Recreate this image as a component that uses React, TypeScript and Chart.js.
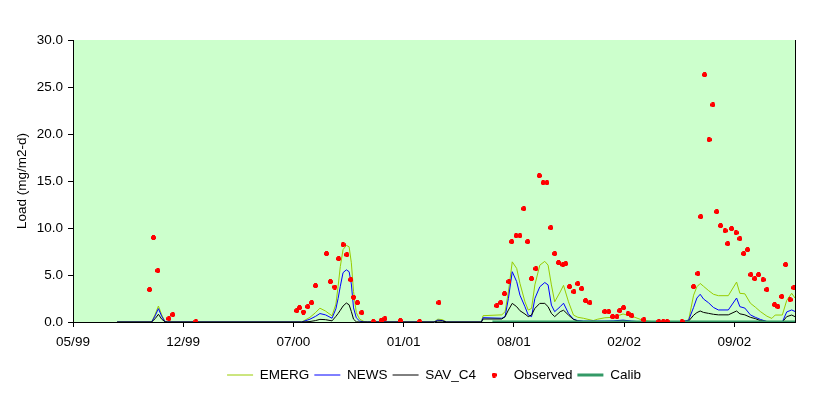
import React, { useEffect, useRef } from 'react';
import { Chart, registerables } from 'chart.js';
Chart.register(...registerables);

// x values are days counted from 31 May 1999
const simDays = [80, 140, 143, 149, 155, 161, 167, 172,
  415, 430, 440, 448, 458, 470, 477, 481, 485, 490, 496, 501, 505, 509, 514, 520, 528, 535,
  655, 662, 670, 678,
  741, 744, 778, 784, 790, 797, 805, 811, 820, 826, 832, 838, 847, 856, 862, 868, 874, 884, 890, 899, 908, 916, 926, 944, 952, 965, 980, 998, 1014, 1033, 1044, 1055,
  1103, 1117, 1126, 1132, 1138, 1144, 1153, 1162, 1171, 1189, 1204, 1210, 1219, 1229, 1238, 1247, 1259, 1268, 1274, 1287, 1295, 1304, 1310];

const emerg = [0, 0, 0.05, 0.8, 1.7, 0.75, 0.05, 0,
  0, 0.5, 1.0, 1.47, 1.17, 0.66, 1.9, 3.8, 5.9, 7.7, 8.15, 8.0, 6.3, 3.25, 1.0, 0.3, 0.05, 0,
  0, 0.3, 0.25, 0,
  0, 0.67, 0.76, 1.1, 3.2, 6.4, 5.7, 4.1, 2.15, 1.27, 1.45, 3.95, 6.05, 6.45, 6.05, 3.95, 2.15, 3.2, 3.9, 2.15, 0.74, 0.5, 0.4, 0.15, 0.3, 0.45, 0.5, 0.85, 0.62, 0.2, 0.1, 0,
  0, 0.2, 2.85, 3.75, 4.1, 3.8, 3.35, 2.95, 2.8, 2.8, 4.25, 3.05, 3.0, 2.0, 1.58, 1.12, 0.62, 0.38, 0.74, 0.74, 2.3, 3.05, 2.55];

const news = [0, 0, 0.03, 0.65, 1.42, 0.6, 0.03, 0,
  0, 0.3, 0.6, 0.9, 0.76, 0.4, 1.4, 2.5, 3.8, 5.25, 5.55, 5.35, 4.05, 1.5, 0.45, 0.1, 0, 0,
  0, 0.2, 0.15, 0,
  0, 0.46, 0.4, 0.57, 2.5, 5.35, 4.3, 2.85, 1.63, 0.74, 0.57, 2.5, 3.75, 4.2, 3.95, 1.8, 1.1, 1.63, 2.0, 0.92, 0.3, 0.15, 0.1, 0.1, 0.1, 0.1, 0.12, 0.2, 0.1, 0, 0, 0,
  0, 0.2, 1.55, 2.55, 2.95, 2.45, 2.05, 1.55, 1.28, 1.28, 2.55, 1.63, 1.48, 0.76, 0.5, 0.28, 0.05, 0, 0, 0, 1.07, 1.28, 1.12];

const savC4 = [0, 0, 0.02, 0.35, 0.82, 0.3, 0.02, 0,
  0, 0.05, 0.15, 0.28, 0.25, 0.12, 0.6, 0.9, 1.25, 1.7, 2.02, 1.83, 1.12, 0.3, 0.02, 0, 0, 0,
  0, 0.1, 0.1, 0,
  0, 0.32, 0.32, 0.57, 1.27, 1.98, 1.63, 1.2, 0.85, 0.57, 0.74, 1.45, 1.98, 1.98, 1.63, 0.92, 0.57, 1.1, 1.25, 0.74, 0.28, 0.1, 0.05, 0, 0, 0, 0.05, 0.1, 0.05, 0, 0, 0,
  0, 0.1, 0.72, 1.0, 1.17, 1.02, 0.92, 0.82, 0.76, 0.76, 1.17, 0.87, 0.76, 0.5, 0.36, 0.15, 0.05, 0, 0, 0, 0.57, 0.74, 0.57];

const obsDays = [139, 146, 154, 174, 181, 223,
  406, 411, 418, 426, 433, 440, 460, 467, 475, 482, 490, 497, 504, 509, 516, 524, 545, 559, 566, 594, 629, 664,
  769, 776, 783, 791, 796, 804, 811, 818, 825, 832, 840, 846, 853, 860, 867, 874, 881, 889, 894, 901, 909, 916, 923, 930, 938, 965, 972, 979, 987, 992, 999, 1007, 1014, 1036, 1063, 1071, 1078, 1105,
  1126, 1134, 1139, 1146, 1154, 1161, 1168, 1175, 1183, 1188, 1195, 1203, 1210, 1217, 1224, 1230, 1237, 1244, 1252, 1259, 1273, 1279, 1286, 1293, 1301, 1308];

const obsValues = [3.44, 8.97, 5.46, 0.35, 0.78, 0.03,
  1.2, 1.52, 1.06, 1.63, 2.05, 3.86, 7.27, 4.29, 3.72, 6.73, 8.22, 7.16, 4.5, 2.63, 2.05, 0.99, 0.03, 0.14, 0.35, 0.14, 0.03, 2.05,
  1.73, 2.05, 3.01, 4.29, 8.54, 9.18, 9.18, 12.05, 8.54, 4.61, 5.67, 15.56, 14.82, 14.82, 10.03, 7.27, 6.31, 6.1, 6.2, 3.76, 3.22, 4.07, 3.54, 2.27, 2.05, 1.1, 1.1, 0.56, 0.56, 1.2, 1.52, 0.88, 0.67, 0.24, 0.03, 0.03, 0.03, 0.03,
  3.76, 5.14, 11.2, 26.3, 19.4, 23.1, 11.73, 10.24, 9.71, 8.33, 9.93, 9.5, 8.86, 7.27, 7.69, 5.03, 4.61, 5.03, 4.5, 3.44, 1.84, 1.63, 2.7, 6.1, 2.37, 3.65];

const calibDays = [761, 1310];
const calibValues = [0, 0];

const xTickValues = [0, 200, 400, 600, 800, 1000, 1200];
const xTickLabels = ['05/99', '12/99', '07/00', '01/01', '08/01', '02/02', '09/02'];

const FONT = { family: '"Liberation Sans", Arial, sans-serif', size: 13.5 };

export default function App() {
  const ref = useRef<HTMLCanvasElement | null>(null);
  useEffect(() => {
    document.body.style.margin = '0';
    const canvas = ref.current;
    if (!canvas) return;

    const dot = document.createElement('canvas');
    dot.width = 5; dot.height = 5;
    const dctx = dot.getContext('2d')!;
    dctx.fillStyle = '#FF0000';
    dctx.fillRect(1, 0, 3, 5);
    dctx.fillRect(0, 1, 5, 3);

    const toXY = (xs: number[], ys: number[]) => xs.map((x, i) => ({ x, y: ys[i] }));
    const lineDs = (label: string, ys: number[], color: string, order: number) => ({
      type: 'line' as const,
      label,
      data: toXY(simDays, ys),
      borderColor: color,
      backgroundColor: color,
      borderWidth: 1,
      pointRadius: 0,
      pointHoverRadius: 0,
      pointStyle: 'line',
      tension: 0,
      fill: false,
      order,
    });

    const bgPlugin = {
      id: 'plotBg',
      beforeDraw(chart: any) {
        const { ctx, chartArea: a } = chart;
        ctx.save();
        ctx.fillStyle = '#CCFFCC';
        ctx.fillRect(a.left, a.top, a.right - a.left, a.bottom - a.top);
        ctx.strokeStyle = '#000';
        ctx.lineWidth = 1;
        ctx.beginPath();
        ctx.moveTo(Math.round(a.right) + 0.5, a.top);
        ctx.lineTo(Math.round(a.right) + 0.5, a.bottom);
        ctx.stroke();
        ctx.restore();
      },
    };

    const chart = new Chart(canvas, {
      type: 'line',
      data: {
        datasets: [
          lineDs('EMERG', emerg, '#99CC00', 4),
          lineDs('NEWS', news, '#0000FF', 3),
          lineDs('SAV_C4', savC4, '#000000', 2),
          {
            type: 'line',
            label: 'Observed',
            data: toXY(obsDays, obsValues),
            showLine: false,
            pointStyle: dot as any,
            pointRadius: 2.5,
            borderWidth: 0,
            borderColor: '#FF0000',
            backgroundColor: '#FF0000',
            order: 0,
          } as any,
          {
            type: 'line',
            label: 'Calib',
            data: toXY(calibDays, calibValues),
            borderColor: '#339966',
            backgroundColor: '#339966',
            borderWidth: 3,
            pointRadius: 0,
            pointHoverRadius: 0,
            pointStyle: 'line',
            fill: false,
            order: 1,
          } as any,
        ],
      },
      options: {
        animation: false,
        responsive: false,
        maintainAspectRatio: false,
        devicePixelRatio: 1,
        layout: { padding: { left: 0, right: 34, top: 40, bottom: 4.25 } },
        plugins: {
          tooltip: { enabled: false },
          legend: {
            position: 'bottom',
            fullSize: false,
            align: 'center',
            labels: {
              usePointStyle: true,
              pointStyleWidth: 26,
              padding: 5,
              color: '#000',
              font: FONT,
              sort: (a: any, b: any) => a.datasetIndex - b.datasetIndex,
            },
          },
        },
        scales: {
          x: {
            type: 'linear',
            position: 'bottom',
            min: 0,
            max: 1310,
            afterBuildTicks: (s: any) => { s.ticks = xTickValues.map((v) => ({ value: v })); },
            afterFit: (s: any) => { s.height = 41.25; },
            ticks: {
              autoSkip: false,
              maxRotation: 0,
              padding: 7,
              color: '#000',
              font: FONT,
              callback: (v: any) => xTickLabels[xTickValues.indexOf(Number(v))] ?? '',
            },
            grid: { display: true, drawOnChartArea: false, drawTicks: true, tickLength: 5, color: '#000', lineWidth: 1 },
            border: { display: true, color: '#000', width: 1 },
          },
          y: {
            type: 'linear',
            min: 0,
            max: 30,
            afterFit: (s: any) => { s.width = 73; },
            ticks: {
              stepSize: 5,
              padding: 5,
              color: '#000',
              font: FONT,
              callback: (v: any) => Number(v).toFixed(1),
            },
            grid: { display: true, drawOnChartArea: false, drawTicks: true, tickLength: 5, color: '#000', lineWidth: 1 },
            border: { display: true, color: '#000', width: 1 },
            title: {
              display: true,
              text: 'Load (mg/m2-d)',
              color: '#000',
              font: FONT,
              padding: { top: 14.4, bottom: 0 },
            },
          },
        },
      },
      plugins: [bgPlugin],
    } as any);
    return () => chart.destroy();
  }, []);
  return (
    <div style={{ width: 829, height: 396 }}>
      <canvas ref={ref} width={829} height={396} style={{ width: 829, height: 396, display: 'block' }} />
    </div>
  );
}
